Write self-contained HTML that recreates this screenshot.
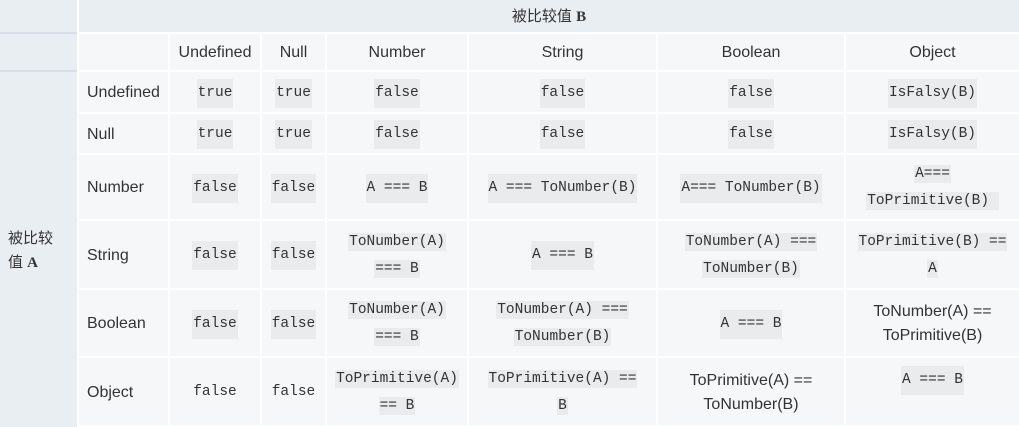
<!DOCTYPE html>
<html><head><meta charset="utf-8"><style>
body{margin:0;width:1019px;height:427px;background:#fff;overflow:hidden;font-family:"Liberation Sans","Noto Sans CJK SC",sans-serif;color:#333;}
.c{position:absolute;background:#f6f7f9;display:flex;align-items:center;justify-content:center;text-align:center;font-size:16px;line-height:24px;box-sizing:border-box;padding-top:2px;}
.h{background:#e9eef3;}
.l{justify-content:flex-start;padding-left:8px;text-align:left;}
code{font-family:"Liberation Mono","DejaVu Sans Mono",monospace;font-size:14.5px;background:#eaebec;padding:1px 1px;line-height:27px;box-decoration-break:clone;-webkit-box-decoration-break:clone;}
code.n{background:none;}
</style></head><body>
<div class="c h" style="left:0;top:0;width:77px;height:32px"></div>
<div class="c h" style="left:79px;top:0;width:940px;height:32px;font-size:15px">被比较值&nbsp;<b style="font-family:'Liberation Serif',serif">B</b></div>
<div class="c h" style="left:0;top:34px;width:77px;height:36px"></div>
<div class="c h" style="left:0;top:72px;width:77px;height:355px;justify-content:flex-start;text-align:left;padding-left:8px;font-size:15px;line-height:24px"><div>被比较<br>值 <b style="font-family:'Liberation Serif',serif">A</b></div></div>
<div style="position:absolute;left:0;top:32px;width:77px;height:2px;background:#d6dee7"></div>
<div style="position:absolute;left:0;top:70px;width:77px;height:2px;background:#d6dee7"></div>

<div class="c" style="left:79px;top:34px;width:89px;height:36px"></div>
<div class="c" style="left:170px;top:34px;width:90px;height:36px">Undefined</div>
<div class="c" style="left:262px;top:34px;width:63px;height:36px">Null</div>
<div class="c" style="left:327px;top:34px;width:140px;height:36px">Number</div>
<div class="c" style="left:469px;top:34px;width:187px;height:36px">String</div>
<div class="c" style="left:658px;top:34px;width:186px;height:36px">Boolean</div>
<div class="c" style="left:846px;top:34px;width:173px;height:36px">Object</div>

<div class="c l" style="left:79px;top:72px;width:89px;height:40px">Undefined</div>
<div class="c" style="left:170px;top:72px;width:90px;height:40px"><code>true</code></div>
<div class="c" style="left:262px;top:72px;width:63px;height:40px"><code>true</code></div>
<div class="c" style="left:327px;top:72px;width:140px;height:40px"><code>false</code></div>
<div class="c" style="left:469px;top:72px;width:187px;height:40px"><code>false</code></div>
<div class="c" style="left:658px;top:72px;width:186px;height:40px"><code>false</code></div>
<div class="c" style="left:846px;top:72px;width:173px;height:40px"><code>IsFalsy(B)</code></div>

<div class="c l" style="left:79px;top:114px;width:89px;height:39px">Null</div>
<div class="c" style="left:170px;top:114px;width:90px;height:39px"><code>true</code></div>
<div class="c" style="left:262px;top:114px;width:63px;height:39px"><code>true</code></div>
<div class="c" style="left:327px;top:114px;width:140px;height:39px"><code>false</code></div>
<div class="c" style="left:469px;top:114px;width:187px;height:39px"><code>false</code></div>
<div class="c" style="left:658px;top:114px;width:186px;height:39px"><code>false</code></div>
<div class="c" style="left:846px;top:114px;width:173px;height:39px"><code>IsFalsy(B)</code></div>

<div class="c l" style="left:79px;top:155px;width:89px;height:64px">Number</div>
<div class="c" style="left:170px;top:155px;width:90px;height:64px"><code>false</code></div>
<div class="c" style="left:262px;top:155px;width:63px;height:64px"><code>false</code></div>
<div class="c" style="left:327px;top:155px;width:140px;height:64px"><code>A === B</code></div>
<div class="c" style="left:469px;top:155px;width:187px;height:64px"><code>A === ToNumber(B)</code></div>
<div class="c" style="left:658px;top:155px;width:186px;height:64px"><code>A=== ToNumber(B)</code></div>
<div class="c" style="left:846px;top:155px;width:173px;height:64px"><div><code>A===</code><br><code>ToPrimitive(B)&nbsp;</code></div></div>

<div class="c l" style="left:79px;top:221px;width:89px;height:67px">String</div>
<div class="c" style="left:170px;top:221px;width:90px;height:67px"><code>false</code></div>
<div class="c" style="left:262px;top:221px;width:63px;height:67px"><code>false</code></div>
<div class="c" style="left:327px;top:221px;width:140px;height:67px"><div><code>ToNumber(A)</code><br><code>=== B</code></div></div>
<div class="c" style="left:469px;top:221px;width:187px;height:67px"><code>A === B</code></div>
<div class="c" style="left:658px;top:221px;width:186px;height:67px"><div><code>ToNumber(A) ===</code><br><code>ToNumber(B)</code></div></div>
<div class="c" style="left:846px;top:221px;width:173px;height:67px"><div><code>ToPrimitive(B) ==</code><br><code>A</code></div></div>

<div class="c l" style="left:79px;top:290px;width:89px;height:66px">Boolean</div>
<div class="c" style="left:170px;top:290px;width:90px;height:66px"><code>false</code></div>
<div class="c" style="left:262px;top:290px;width:63px;height:66px"><code>false</code></div>
<div class="c" style="left:327px;top:290px;width:140px;height:66px"><div><code>ToNumber(A)</code><br><code>=== B</code></div></div>
<div class="c" style="left:469px;top:290px;width:187px;height:66px"><div><code>ToNumber(A) ===</code><br><code>ToNumber(B)</code></div></div>
<div class="c" style="left:658px;top:290px;width:186px;height:66px"><code>A === B</code></div>
<div class="c" style="left:846px;top:290px;width:173px;height:66px">ToNumber(A) ==<br>ToPrimitive(B)</div>

<div class="c l" style="left:79px;top:358px;width:89px;height:67px">Object</div>
<div class="c" style="left:170px;top:358px;width:90px;height:67px"><code class="n">false</code></div>
<div class="c" style="left:262px;top:358px;width:63px;height:67px"><code class="n">false</code></div>
<div class="c" style="left:327px;top:358px;width:140px;height:67px"><div><code>ToPrimitive(A)</code><br><code>== B</code></div></div>
<div class="c" style="left:469px;top:358px;width:187px;height:67px"><div><code>ToPrimitive(A) ==</code><br><code>B</code></div></div>
<div class="c" style="left:658px;top:358px;width:186px;height:67px">ToPrimitive(A) ==<br>ToNumber(B)</div>
<div class="c" style="left:846px;top:358px;width:173px;height:67px;align-items:flex-start;padding-top:8px"><code>A === B</code></div>
</body></html>
